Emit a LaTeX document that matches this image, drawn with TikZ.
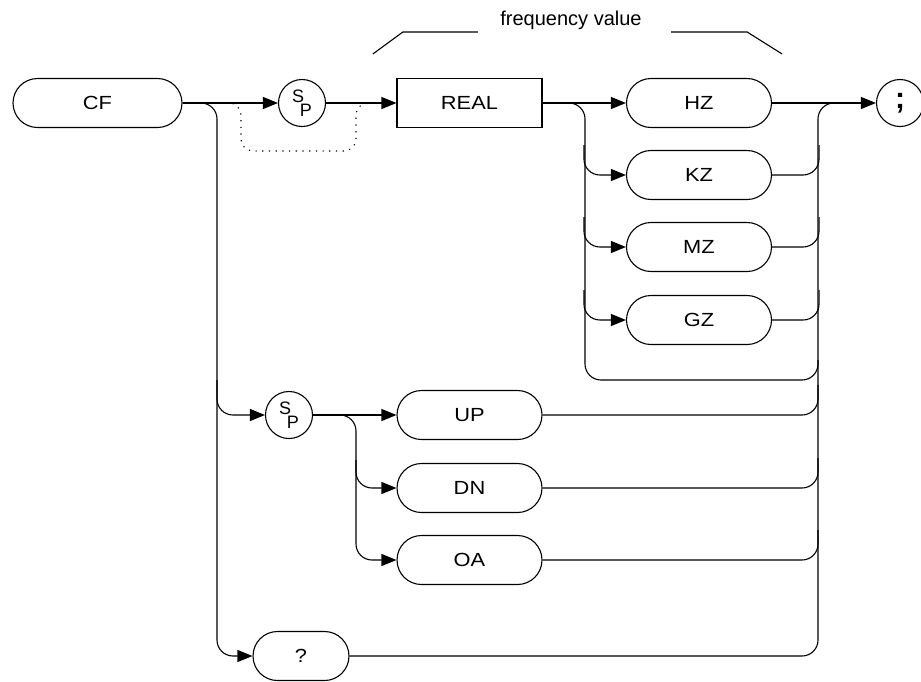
\documentclass[tikz,border=0pt]{standalone}
\usepackage{fontspec}
\setmainfont{Liberation Sans}
\newfontfamily\keyfont[FakeStretch=1.15]{Liberation Sans}
\usetikzlibrary{positioning}
\usetikzlibrary{arrows.meta,shapes}

\newcommand{\spmark}{\fontsize{18}{18}\selectfont\raisebox{6.5pt}{S}\kern-4.5pt\raisebox{-7pt}{P}}

\begin{document}
\begin{tikzpicture}[x=1pt,y=-1pt,line width=1.1pt,
  pill/.style={draw,rounded rectangle,minimum width=145pt,minimum height=49pt,inner sep=0pt,font=\keyfont\fontsize{19}{19}\selectfont},
  box/.style={draw,rectangle,minimum width=145pt,minimum height=49pt,inner sep=0pt,font=\keyfont\fontsize{19}{19}\selectfont},
  blob/.style={draw,circle,minimum size=47pt,inner sep=0pt},
  flow/.style={-{Triangle[length=15pt,width=12pt]}},
  rail/.style={rounded corners=16pt},
  skip/.style={rounded corners=12pt,dash pattern=on 1.2pt off 5.5pt}]

\useasboundingbox (0,0) rectangle (921,681);

% keywords
\node[pill,minimum width=169pt] (cf) at (97.5,103) {CF};
\node[blob] (sp1) at (302,103) {\spmark};
\node[box] (real) at (469.5,103) {REAL};
\foreach \u/\y in {HZ/103,KZ/175,MZ/247,GZ/320}
  \node[pill] (\u) at (699,\y) {\u};
\node[blob] (semi) at (900,103) {\fontsize{30}{30}\selectfont\bfseries ;};

\node[blob] (sp2) at (289,415) {\spmark};
\foreach \u/\y in {UP/415,DN/488,OA/560}
  \node[pill] (\u) at (469.5,\y) {\u};
\node[pill,minimum width=96pt] (query) at (301,656) {?};

% frequency value
\node[anchor=base,inner sep=0pt,font=\fontsize{20}{20}\selectfont] (freq) at (571,25) {frequency value};
\draw ([xshift=-22pt,yshift=-7pt]freq.base west) -- ++(-75,0) -- ++(-30,22);
\draw ([xshift=29pt,yshift=-7pt]freq.base east) -- ++(76,0) -- ++(35,22);

% main line
\draw[flow] (cf.east) -- (sp1.west);
\draw[flow] (sp1.east) -- (real.west);
\draw[skip] (226,103) -| (241,151) -| (356,103) -- (370,103);
\draw[flow] (real.east) -- (HZ.west);
\draw[flow] (HZ.east) -- (semi.west);

% units
\draw[rail] (real.east) -| (585,380) -| (818,360);
\foreach \u in {KZ,MZ,GZ} {
  \draw[rail,flow] ([xshift=-42pt,yshift=30pt]\u.west) |- (\u.west);
  \draw[rail] (\u.east) -| ([xshift=47pt,yshift=30pt]\u.east);
}

% left rail
\draw[rail,flow] (cf.east) -| (217,656) -- (query.west);
\draw[rail,flow] (217,380) |- (sp2.west);
\draw[rail] (query.east) -| (818,103) -- (850,103);

% step keys
\draw[flow] (sp2.east) -- (UP.west);
\draw[rail,flow] (sp2.east) -| (356,560) -- (OA.west);
\draw[rail,flow] (356,460) |- (DN.west);
\foreach \u/\y in {UP/415,DN/488,OA/560}
  \draw[rail] (\u.east) -| (818,{\y-30});

\end{tikzpicture}
\end{document}
